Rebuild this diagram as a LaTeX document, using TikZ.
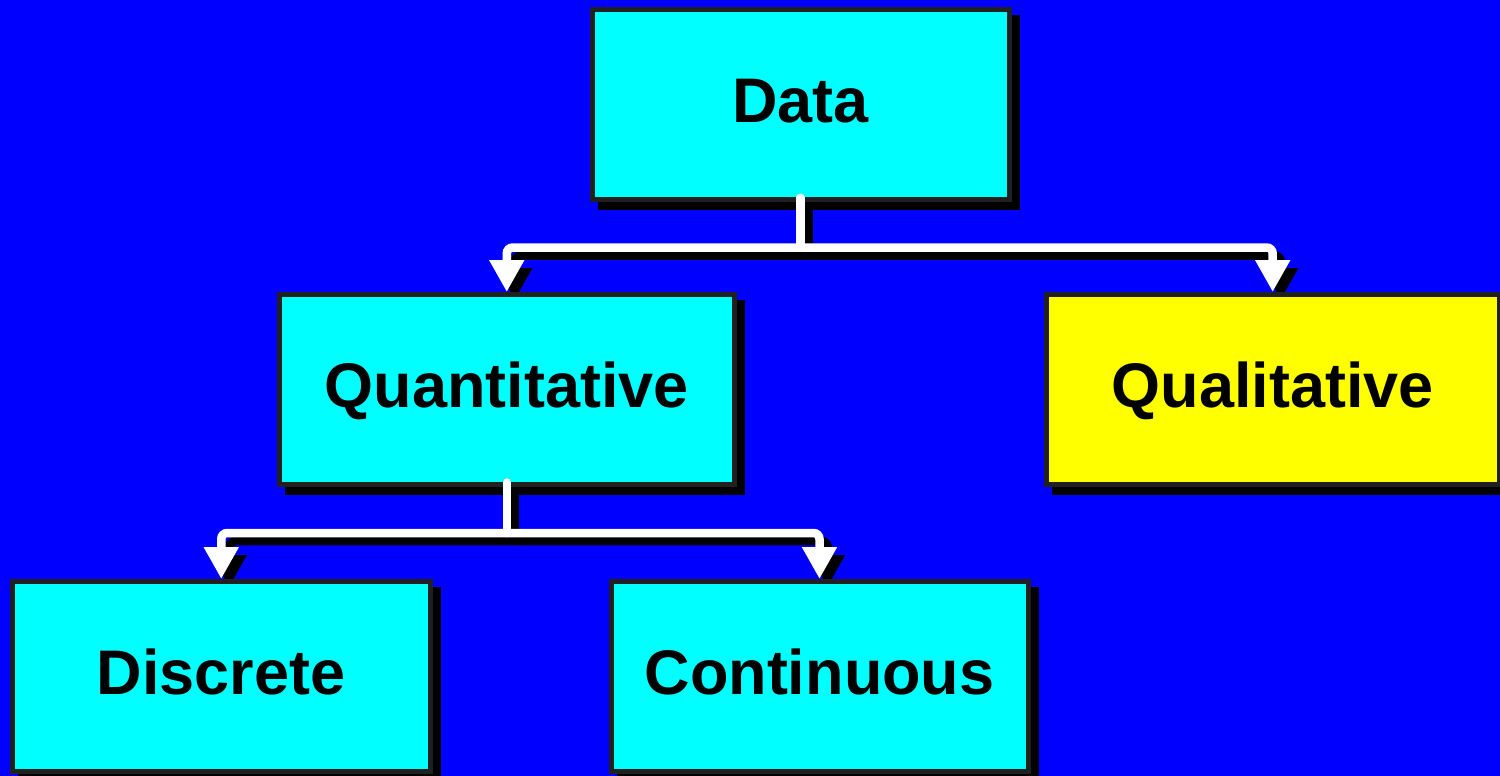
\documentclass[tikz,border=0pt]{standalone}
\usepackage{fontspec}
\setmainfont{Liberation Sans}
\usetikzlibrary{arrows.meta,shadows}
\definecolor{bgblue}{RGB}{0,0,255}
\definecolor{boxcyan}{RGB}{0,255,255}
\definecolor{boxyellow}{RGB}{255,255,0}
\definecolor{bordergray}{RGB}{32,32,32}
\pgfdeclarelayer{bg}
\pgfdeclarelayer{cshadow}
\pgfsetlayers{bg,cshadow,main}
\begin{document}
\begin{tikzpicture}[x=1pt,y=-1pt,
  box/.style={rectangle, draw=bordergray, line width=5pt, minimum height=189.5pt,
    inner sep=0pt, fill=boxcyan, text=black, text height=44pt, text depth=8pt,
    font=\fontsize{63}{75}\selectfont\bfseries,
    general shadow={shadow xshift=8pt, shadow yshift=-8pt, fill=black, draw=black, line width=5pt}},
  conn/.style={line width=8.5pt, rounded corners=6pt},
  tip/.style={-{Triangle[width=33pt,length=32pt]}}]
\begin{pgfonlayer}{bg}
\fill[bgblue] (0,0) rectangle (1500,776);
\end{pgfonlayer}
\useasboundingbox (0,0) rectangle (1500,776);

\node[box, minimum width=417pt] (data) at (800.5,104.5) {Data};
\node[box, minimum width=454.5pt] (quant) at (506.75,389.25) {Quantitative};
\node[box, minimum width=452.7pt, fill=boxyellow] (qual) at (1272.7,389.25) {Qualitative};
\node[box, minimum width=417.5pt] (disc) at (221.25,676.25) {Discrete};
\node[box, minimum width=417pt] (cont) at (819.5,676.25) {Continuous};

\coordinate (hA) at (800.5,247.5);
\coordinate (hB) at (506.75,533);

\newcommand\myconnectors[1]{%
  \draw[conn, #1, line cap=round] ([yshift=4pt]data.south) -- (hA);
  \draw[conn, #1, tip] (hA) -| (quant.north);
  \draw[conn, #1, tip] (hA) -| (qual.north);
  \draw[conn, #1, line cap=round] ([yshift=4pt]quant.south) -- (hB);
  \draw[conn, #1, tip] (hB) -| (disc.north);
  \draw[conn, #1, tip] (hB) -| (cont.north);
}
\begin{pgfonlayer}{cshadow}
\begin{scope}[transform canvas={shift={(8pt,-8pt)}}]
\myconnectors{black}
\end{scope}
\end{pgfonlayer}
\myconnectors{white}
\end{tikzpicture}
\end{document}
